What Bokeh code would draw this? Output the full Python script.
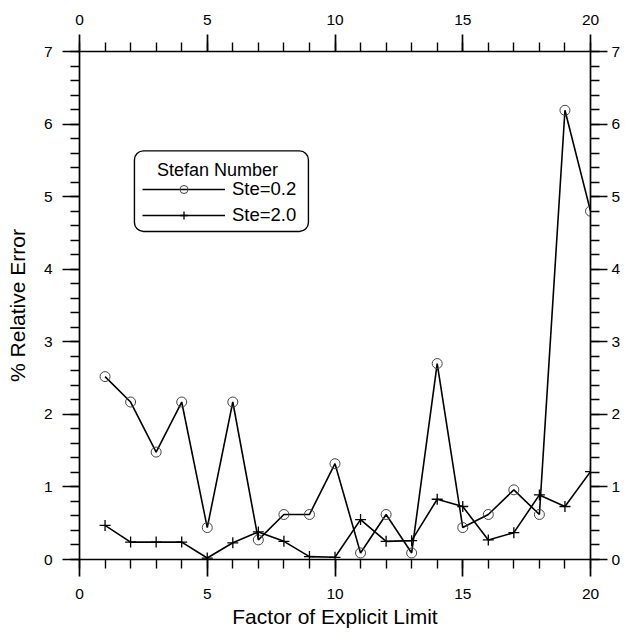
from bokeh.plotting import figure
from bokeh.models import (Range1d, LinearAxis, SingleIntervalTicker, Legend, LegendItem,
                          BoxAnnotation, Label)
from bokeh.embed import file_html
from bokeh.resources import INLINE

# ---- data ----
factor = [1, 2, 3, 4, 5, 6, 7, 8, 9, 10, 11, 12, 13, 14, 15, 16, 17, 18, 19, 20]
ste_02 = [2.52, 2.17, 1.48, 2.17, 0.44, 2.17, 0.27, 0.62, 0.62, 1.32,
          0.09, 0.62, 0.09, 2.70, 0.44, 0.62, 0.96, 0.62, 6.19, 4.80]
ste_20 = [0.47, 0.24, 0.24, 0.24, 0.02, 0.23, 0.38, 0.25, 0.04, 0.03,
          0.55, 0.25, 0.26, 0.83, 0.73, 0.27, 0.37, 0.89, 0.73, 1.21]
series_names = ["Ste=0.2", "Ste=2.0"]
legend_title = "Stefan Number"
x_title = "Factor of Explicit Limit"
y_title = "% Relative Error"

FONT = "Liberation Sans"

p = figure(width=625, height=632, output_backend="svg", toolbar_location=None,
           x_range=Range1d(0, 20), y_range=Range1d(0, 7),
           min_border_left=79, min_border_right=35, min_border_top=51, min_border_bottom=73,
           x_axis_location=None, y_axis_location=None)
p.grid.visible = False
p.outline_line_color = None
p.background_fill_color = "white"
p.border_fill_color = "white"


def style_axis(ax, is_x):
    ax.ticker = SingleIntervalTicker(interval=5 if is_x else 1, num_minor_ticks=5)
    ax.axis_line_color = "black"
    ax.axis_line_width = 1.7
    ax.major_tick_line_color = "black"
    ax.major_tick_line_width = 1.7
    ax.minor_tick_line_color = "black"
    ax.minor_tick_line_width = 1.4
    ax.major_tick_out = 17
    ax.major_tick_in = 0
    ax.minor_tick_out = 9
    ax.minor_tick_in = 0
    ax.major_label_text_font = FONT
    ax.major_label_text_font_size = "15.5px"
    ax.major_label_text_color = "black"
    ax.major_label_standoff = 10
    ax.axis_label_text_font = FONT
    ax.axis_label_text_font_size = "21px"
    ax.axis_label_text_font_style = "normal"
    ax.axis_label_text_color = "black"


xb = LinearAxis(axis_label=x_title)
style_axis(xb, True)
xb.major_label_standoff = 12
xb.axis_label_standoff = 3
p.add_layout(xb, "below")

xt = LinearAxis()
style_axis(xt, True)
p.add_layout(xt, "above")

yl = LinearAxis(axis_label=y_title)
style_axis(yl, False)
yl.axis_label_standoff = 12
p.add_layout(yl, "left")

yr = LinearAxis()
style_axis(yr, False)
yr.major_label_standoff = 4
p.add_layout(yr, "right")

l1 = p.line(factor, ste_02, line_color="black", line_width=1.6)
m1 = p.scatter(factor, ste_02, marker="circle", size=10, fill_alpha=0,
               line_color="#444444", line_width=1.0)
l2 = p.line(factor, ste_20, line_color="black", line_width=1.6)
m2 = p.scatter(factor, ste_20, marker="cross", size=11,
               line_color="black", line_width=1.3)

# legend box with rounded corners
box = BoxAnnotation(left=2.15, right=8.96, top=5.63, bottom=4.52,
                    fill_color="white", fill_alpha=1.0,
                    line_color="black", line_alpha=1.0, line_width=1.4,
                    border_radius=9, level="annotation")
p.add_layout(box)

title_label = Label(x=5.40, y=5.37, text=legend_title, text_font=FONT,
                    text_font_size="18px", text_align="center", text_baseline="middle",
                    text_color="black", level="overlay")
p.add_layout(title_label)

legend = Legend(items=[LegendItem(label=series_names[0], renderers=[l1, m1]),
                       LegendItem(label=series_names[1], renderers=[l2, m2])],
                location=(63, 333), orientation="vertical",
                background_fill_alpha=0, border_line_color=None,
                glyph_width=83, glyph_height=20, label_height=20,
                label_standoff=7, spacing=4, padding=0, margin=0,
                label_text_font=FONT, label_text_font_size="18.5px",
                label_text_color="black")
p.add_layout(legend, "center")

open("out.html", "w").write(file_html(p, INLINE))
